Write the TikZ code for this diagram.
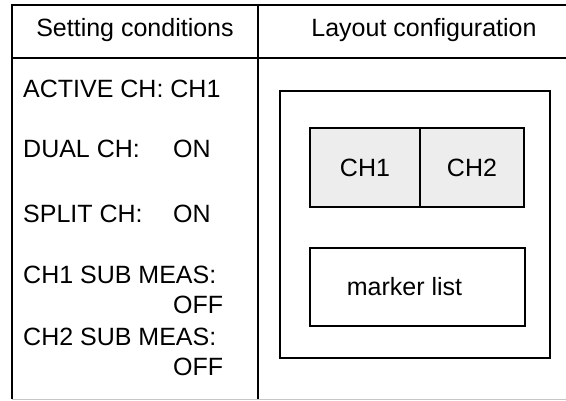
\documentclass[tikz,border=0pt]{standalone}
\usepackage{fontspec}
\setmainfont{Liberation Sans}
\usepackage{tikz}
\usetikzlibrary{positioning}

\tikzset{
    rule/.style={line width=1.5pt, black},
    txt/.style={inner sep=0pt, anchor=base west, font=\fontsize{25}{30}\selectfont},
    chcell/.style={draw, line width=1.5pt, fill=gray!14, inner sep=0pt,
        minimum height=79pt, font=\fontsize{25}{30}\selectfont},
    boxed/.style={draw, line width=1.5pt, inner sep=0pt}
}

\begin{document}
\begin{tikzpicture}[x=1pt, y=-1pt]
    \useasboundingbox (0,0) rectangle (566,400);

    % Table frame
    \draw[rule] (566,5) -- (12,5) -- (12,399);
    \draw[rule] (12,58) -- (566,58);
    \draw[rule] (258,5) -- (258,399);
    \draw[line width=1pt, gray!45] (12,399) -- (566,399);

    % Headers
    \node[txt, anchor=base] (hset) at (135,36) {Setting conditions};
    \node[txt, anchor=base] (hlay) at (424,36) {Layout configuration};

    % Setting conditions
    \node[txt] (act)  at (23,97)  {ACTIVE CH: CH1};
    \node[txt] (dual) at (23,157) {DUAL CH:};
    \node[txt] (dualv) at (173,157) {ON};
    \node[txt] (split) at (23,222) {SPLIT CH:};
    \node[txt] (splitv) at (173,222) {ON};
    \node[txt] (sub1) at (23,283) {CH1 SUB MEAS:};
    \node[txt] (sub1v) at (173,313) {OFF};
    \node[txt] (sub2) at (23,345) {CH2 SUB MEAS:};
    \node[txt] (sub2v) at (173,375) {OFF};

    % Layout configuration
    \node[boxed, minimum width=270pt, minimum height=267pt] (screen) at (415,224.5) {};
    \node[chcell, minimum width=110pt] (ch1) at (365,167.5) {CH1};
    \node[chcell, minimum width=104pt] (ch2) at (472,167.5) {CH2};
    \node[boxed, minimum width=215pt, minimum height=78pt] (list) at (417.5,287) {};
    \node[txt, anchor=center] (listtxt) at ([xshift=-13pt]list.center) {marker list};

\end{tikzpicture}
\end{document}
